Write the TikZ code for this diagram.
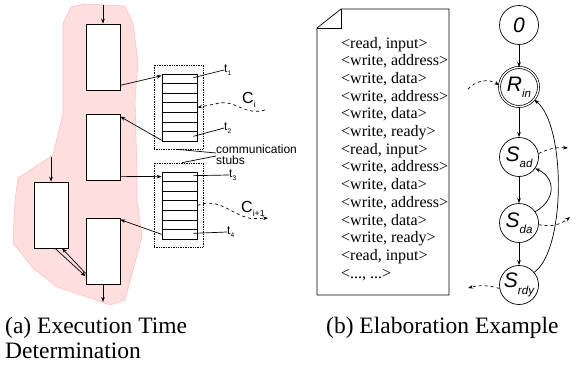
\documentclass[tikz,border=0pt]{standalone}
\usepackage{fontspec}
\setmainfont{Liberation Serif}
\setsansfont{Liberation Sans}
\usetikzlibrary{arrows.meta,positioning,calc}
\definecolor{blob}{HTML}{FFDEDE}
\definecolor{blobedge}{HTML}{FFC2C2}
\newcommand\lowidx[1]{\raisebox{-0.3em}{\scalebox{0.55}{#1}}}
\newcommand\tracetail{<..., ...>}
\tikzset{
  task/.style={draw, fill=white, line width=0.7pt, minimum width=34pt, minimum height=66pt, inner sep=0pt},
  stub/.style={draw, line width=0.7pt, minimum width=35pt, minimum height=67pt, inner sep=0pt},
  group/.style={draw, densely dotted, line width=0.7pt, minimum width=49pt, minimum height=84pt, inner sep=0pt},
  lbl/.style={font=\sffamily\fontsize{12}{11}\selectfont, inner sep=0pt, align=left},
  chan/.style={font=\sffamily\fontsize{16}{16}\selectfont, inner sep=0pt, anchor=west},
  st/.style={draw, circle, line width=0.7pt, minimum size=39pt, inner sep=0pt, font=\sffamily\itshape\fontsize{21}{21}\selectfont},
  flow/.style={-{Stealth[length=5pt,width=3.6pt]}, line width=0.7pt},
  ext/.style={flow, dashed},
  thin/.style={line width=0.7pt},
  trace/.style={font=\fontsize{16}{17}\selectfont, anchor=base west, inner sep=0pt},
  capt/.style={font=\fontsize{23.5}{25}\selectfont, anchor=base west, inner sep=0pt, align=left}
}

\begin{document}
\begin{tikzpicture}[x=1pt, y=1pt]
    \useasboundingbox (0,0) rectangle (577,-364);

    % --- (a) tasks and stubs ---
    \filldraw[fill=blob, draw=blobedge, line width=0.6pt]
        (71,-7) -- (85,-4) -- (125,-6) -- (133,-23) -- (138,-62) -- (135,-100)
        -- (137,-173) -- (137,-200) -- (142,-237) -- (133,-270) -- (125,-300)
        -- (110,-305) -- (87,-297) -- (57,-287) -- (33,-268) -- (13,-243)
        -- (15,-200) -- (18,-178) -- (53,-155) -- (63,-113) -- (63,-67)
        -- (63,-23) -- cycle;

    \node[task] (box1) at (103,-57) {};
    \node[task] (box2) at (103,-147) {};
    \node[task] (box3) at (51,-215) {};
    \node[task] (box4) at (103,-251) {};

    \coordinate (in1) at (103,-5);
    \coordinate (in3) at (51,-157);
    \coordinate (out4) at (103,-302);
    \draw[flow] (in1) -- (box1.north);
    \draw[flow] (in3) -- (box3.north);
    \draw[flow] (box4.south) -- (out4);
    \draw[flow] ([xshift=4pt]box3.south) -- ([yshift=8pt]box4.south west);
    \draw[flow] ([yshift=11pt]box4.south west) -- ([xshift=11pt]box3.south);

    \node[group] (g1) at (178.5,-107) {};
    \node[group] (g2) at (178.5,-205) {};
    \node[stub] (s1) at (179.5,-107.5) {};
    \node[stub] (s2) at (179.5,-205.5) {};
    \foreach \s in {s1,s2}
        \foreach \k in {1,...,6}
            \draw[thin] ($(\s.north west)!\k/7!(\s.south west)$) -- ($(\s.north east)!\k/7!(\s.south east)$);

    \draw[flow] ([yshift=5pt]box1.south east) -- ([yshift=-2pt]s1.north west);
    \draw[flow] ([yshift=1pt]s1.south west) -- ([yshift=-3pt]box2.north east);
    \draw[flow] ([yshift=4pt]box2.south east) -- ([yshift=-5pt]s2.north west);
    \draw[flow] ([yshift=5pt]s2.south west) -- ([yshift=-2pt]box4.north east);

    % time stamps
    \node[lbl, anchor=west] (t1) at (224,-70) {t\lowidx{1}};
    \node[lbl, anchor=west] (t2) at (224,-128) {t\lowidx{2}};
    \node[lbl, anchor=west] (t3) at (229,-175) {t\lowidx{3}};
    \node[lbl, anchor=west] (t4) at (227,-232) {t\lowidx{4}};
    \draw[thin] ([shift={(-4pt,-4pt)}]s1.north east) -- (t1.west);
    \draw[thin] ([shift={(-4pt,5pt)}]s1.south east) -- (t2.west);
    \draw[thin] ([shift={(-4pt,-4pt)}]s2.north east) -- (t3.west);
    \draw[thin] ([shift={(-4pt,6pt)}]s2.south east) -- (t4.west);

    % channels
    \node[chan] (ci) at (242,-100) {C\lowidx{i}};
    \node[chan] (ci1) at (241,-209) {C\lowidx{i+1}};
    \coordinate (cifrom) at (265,-110);
    \coordinate (ci1to) at (268,-218);
    \draw[ext] (cifrom) .. controls (245,-116) and (235,-100) .. (220,-103)
        .. controls (210,-105) .. (s1.east);
    \draw[ext] (s2.east) .. controls (215,-198) and (228,-210) .. (240,-215)
        .. controls (250,-219) .. (ci1to);

    \node[lbl, anchor=west] (comm) at (216,-155) {communication\\stubs};
    \draw[thin] ([xshift=-1.5pt]g1.south) -- ([yshift=2pt]comm.west);
    \draw[thin] ([xshift=3.5pt]g2.north) -- ([yshift=-1pt]comm.west);

    % --- (b) trace and automaton ---
    \draw[thin] (341,-9) -- (449,-9) -- (449,-295) -- (317,-295) -- (317,-28) -- cycle;
    \draw[thin] (317,-28) -- (341,-28) -- (341,-9);
    \foreach \ev [count=\i from 0] in {{<read, input>},{<write, address>},{<write, data>},
            {<write, address>},{<write, data>},{<write, ready>},{<read, input>},
            {<write, address>},{<write, data>},{<write, address>},{<write, data>},
            {<write, ready>},{<read, input>}}
        \node[trace] (ev\i) at (341,{-48-17.7*\i}) {\ev};
    \node[trace] (ev13) at (341,{-48-17.7*13}) {\tracetail};

    \node[st] (q0) at (519,-25) {0};
    \node[st, double, double distance=1.3pt] (rin) at (519,-87) {R\lowidx{in}};
    \node[st] (sad) at (519,-157) {S\lowidx{ad}};
    \node[st] (sda) at (519,-223) {S\lowidx{da}};
    \node[st] (srdy) at (519,-285) {S\lowidx{rdy}};

    \draw[flow] (q0) -- (rin);
    \draw[flow] (rin) -- (sad);
    \draw[flow] (sad) -- (sda);
    \draw[flow] (sda) -- (srdy);
    \draw[flow] (sda.35) .. controls (556,-200) and (556,-178) .. (sad.-35);
    \draw[flow] (srdy.40) .. controls (566,-250) and (566,-125) .. (rin.-40);

    \coordinate (rinfrom) at (468,-89);
    \coordinate (sadto) at (568,-148);
    \coordinate (sdato) at (570,-217);
    \coordinate (srdyto) at (468,-288);
    \draw[ext] (rinfrom) to[bend left=40] (rin.175);
    \draw[ext] (sad.10) to[bend left=15] (sadto);
    \draw[ext] (sda.-5) to[bend right=25] (sdato);
    \draw[ext] (srdy.190) to[bend right=15] (srdyto);

    % captions
    \node[capt] (capa) at (5,-358) {(a) Execution Time\\Determination};
    \node[capt] (capb) at (326,-333) {(b) Elaboration Example};
\end{tikzpicture}
\end{document}
